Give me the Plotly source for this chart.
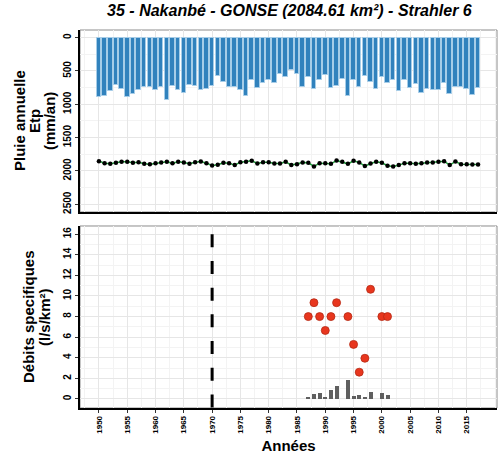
import plotly.graph_objects as go
from plotly.subplots import make_subplots

# Annual data
years = list(range(1950, 2018))

pluie = [
    891, 872, 797, 707, 772, 896, 847, 782, 742, 747,
    782, 747, 941, 722, 782, 837, 717, 722, 792, 772,
    727, 568, 672, 742, 747, 792, 872, 633, 757, 687,
    637, 687, 543, 593, 483, 543, 742, 593, 767, 633,
    558, 762, 722, 618, 872, 637, 742, 573, 667, 767,
    583, 677, 633, 807, 642, 752, 697, 827, 767, 782,
    787, 682, 842, 742, 742, 767, 857, 752,
]

etp = [
    1853, 1883, 1893, 1878, 1863, 1863, 1878, 1868, 1893, 1898,
    1883, 1873, 1863, 1883, 1863, 1873, 1893, 1868, 1858, 1883,
    1917, 1907, 1878, 1883, 1912, 1868, 1863, 1848, 1888, 1868,
    1868, 1888, 1888, 1863, 1912, 1898, 1873, 1878, 1932, 1883,
    1883, 1893, 1843, 1863, 1893, 1848, 1873, 1927, 1888, 1863,
    1878, 1922, 1932, 1912, 1883, 1883, 1893, 1883, 1873, 1873,
    1863, 1853, 1912, 1858, 1898, 1898, 1902, 1902,
]

# Specific discharge (l/s/km2)
q_years = [1987, 1988, 1989, 1990, 1991, 1992, 1994, 1995, 1996, 1997, 1998, 2000, 2001]
q_max = [8.0, 9.35, 8.0, 6.65, 8.0, 9.35, 8.0, 5.3, 2.6, 3.95, 10.65, 8.0, 8.0]
q_mean = [0.19, 0.45, 0.61, 0.22, 0.84, 1.26, 1.85, 0.29, 0.36, 0.19, 0.71, 0.55, 0.36]

x_ticks = list(range(1950, 2020, 5))

rupture_year = 1970
rupture_top = 16

TITLE = "35 - Nakanbé - GONSE (2084.61 km²) - Strahler 6"
TITLE_TOP = ["Pluie annuelle", "Etp", "(mm/an)"]
TITLE_BOTTOM = ["Débits specifiques", "(l/s/km²)"]

FONT = "Liberation Sans, Arial, sans-serif"
GRID = "#e6e6e6"
GRID_MINOR = "#f3f3f3"

fig = make_subplots(rows=2, cols=1, vertical_spacing=0.037)

fig.add_trace(go.Bar(
    x=years, y=pluie, width=0.8,
    marker=dict(color="#3182bd", line=dict(color="#a6cde8", width=1)),
    showlegend=False,
), row=1, col=1)

fig.add_trace(go.Scatter(
    x=years, y=etp, mode="lines+markers",
    line=dict(color="#1f9e3a", width=1.5),
    marker=dict(color="black", size=4.5),
    showlegend=False,
), row=1, col=1)

fig.add_trace(go.Scatter(
    x=[rupture_year, rupture_year], y=[rupture_top, -0.88], mode="lines",
    line=dict(color="black", width=3, dash="13px,13.7px"),
    showlegend=False,
), row=2, col=1)

fig.add_trace(go.Bar(
    x=q_years, y=q_mean, width=0.7,
    marker=dict(color="#5f5f5f", line=dict(width=0)),
    showlegend=False,
), row=2, col=1)

fig.add_trace(go.Scatter(
    x=q_years, y=q_max, mode="markers",
    marker=dict(color="#e8361e", size=8, line=dict(color="#b52a14", width=0.8)),
    showlegend=False,
), row=2, col=1)

xcommon = dict(
    range=[1946.65, 2020.35], tickvals=x_ticks, automargin=False,
    showgrid=True, gridcolor=GRID, gridwidth=1, zeroline=False,
    minor=dict(dtick=2.5, tick0=1950, showgrid=True, gridcolor=GRID_MINOR),
    showline=True, linecolor="black", linewidth=1.5,
    mirror=False,
)
fig.update_xaxes(**xcommon)
fig.update_xaxes(showticklabels=False, ticks="", row=1, col=1)
fig.update_xaxes(
    tickangle=-90, ticks="outside", ticklen=3, tickcolor="#333",
    tickfont=dict(size=8, family=FONT, color="black", weight="bold"),
    title=dict(text="<b>Années</b>", font=dict(size=15, family=FONT, color="black"), standoff=8),
    row=2, col=1,
)

ycommon = dict(
    showgrid=True, gridcolor=GRID, zeroline=False, automargin=False,
    showline=True, linecolor="black", linewidth=1.5,
    tickangle=-90, ticks="outside", ticklen=3, tickcolor="#333",
    tickfont=dict(size=10, family=FONT, color="black", weight="bold"),
)
fig.update_yaxes(**ycommon)
fig.update_yaxes(
    range=[2616, -115], tickvals=[0, 500, 1000, 1500, 2000, 2500],
    minor=dict(dtick=250, showgrid=True, gridcolor=GRID_MINOR),
    row=1, col=1,
)
fig.update_yaxes(
    range=[-0.88, 16.8], tick0=0, dtick=2,
    minor=dict(dtick=1, showgrid=True, gridcolor=GRID_MINOR),
    row=2, col=1,
)

# grey panel borders (top / right)
for xr, yr in (("x domain", "y domain"), ("x2 domain", "y2 domain")):
    fig.add_shape(type="rect", xref=xr, yref=yr, x0=0, x1=1, y0=0, y1=1,
                  line=dict(color="#8c8c8c", width=1), layer="below")

# y titles: one annotation per line for tighter line spacing
for line, shift in zip(TITLE_TOP, [-61, -46, -31]):
    fig.add_annotation(
        text=f"<b>{line}</b>", textangle=-90,
        xref="paper", yref="y domain", x=0, xshift=shift, y=0.5,
        xanchor="center", yanchor="middle", showarrow=False,
        font=dict(size=15, family=FONT, color="black"),
    )
for line, shift in zip(TITLE_BOTTOM, [-51, -35]):
    fig.add_annotation(
        text=f"<b>{line}</b>", textangle=-90,
        xref="paper", yref="y2 domain", x=0, xshift=shift, y=0.5,
        xanchor="center", yanchor="middle", showarrow=False,
        font=dict(size=15, family=FONT, color="black"),
    )

fig.update_layout(
    width=499, height=459,
    paper_bgcolor="white", plot_bgcolor="white",
    margin=dict(l=80, r=2, t=30, b=51, autoexpand=False),
    bargap=0,
    title=dict(text=f"<b><i>{TITLE}</i></b>", x=0.58, xanchor="center",
               y=0.978, yanchor="middle",
               font=dict(size=16, family=FONT, color="black")),
    font=dict(family=FONT, color="black"),
)

# the page body has a default 8px margin; remove it so the figure fills the window
fig.write_html(
    "out.html",
    config={"displayModeBar": False},
    post_script="document.body.style.margin='0';",
)
